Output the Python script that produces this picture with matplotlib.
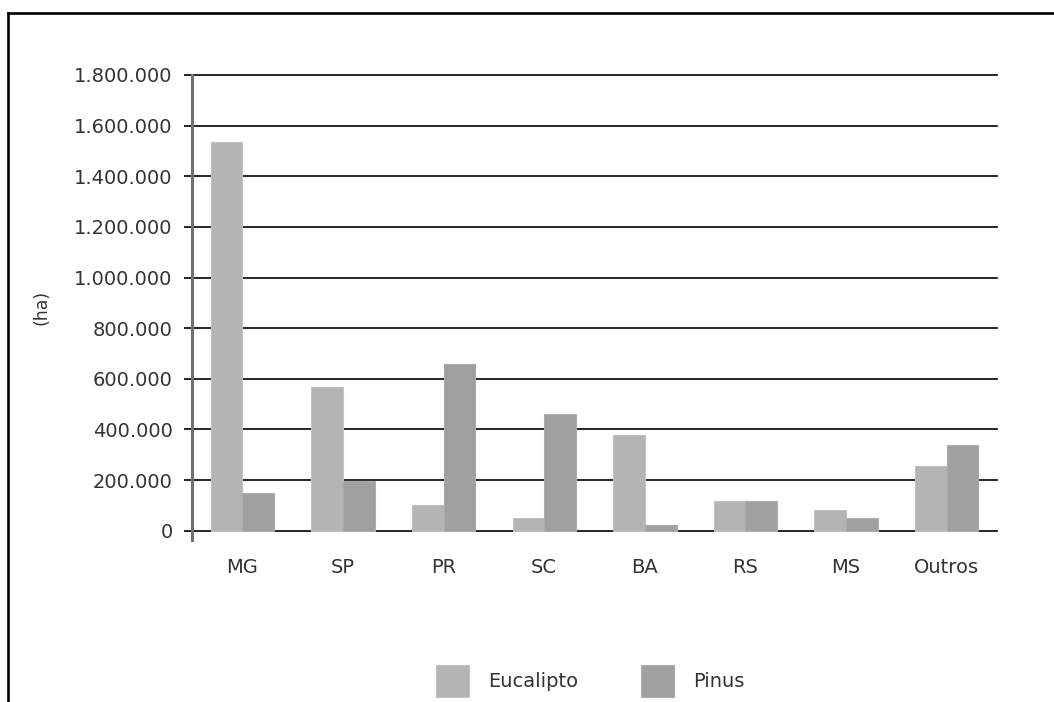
import numpy as np
import matplotlib
matplotlib.use("Agg")
import matplotlib.pyplot as plt
from matplotlib.lines import Line2D
from matplotlib.ticker import FuncFormatter

states = ["MG", "SP", "PR", "SC", "BA", "RS", "MS", "Outros"]
eucalipto = [1535000, 568000, 103000, 51000, 379000, 118000, 83000, 257000]
pinus = [150000, 197000, 659000, 462000, 21000, 118000, 51000, 340000]
yticks = [0, 200000, 400000, 600000, 800000, 1000000, 1200000, 1400000, 1600000, 1800000]

c_euc = "#b4b4b4"
c_pin = "#a0a0a0"
txt = "#333333"

fig = plt.figure(figsize=(10.54, 7.02), dpi=100)
fig.set_facecolor("white")
ax = fig.add_axes([0.1822, 0.2308, 0.7637, 0.6624])

x = np.arange(len(states))
w = 0.315
ax.bar(x - w / 2, eucalipto, width=w, color=c_euc, edgecolor="#c2c2c2",
       lw=0.8, label="Eucalipto", zorder=3)
ax.bar(x + w / 2, pinus, width=w, color=c_pin, edgecolor="#acacac",
       lw=0.8, label="Pinus", zorder=3)

ax.set_xlim(-0.5, len(states) - 0.5)
ax.set_ylim(-36700, 1800000)
ax.set_yticks(yticks)
ax.yaxis.set_major_formatter(
    FuncFormatter(lambda v, p: f"{int(v):,}".replace(",", "."))
)
ax.yaxis.grid(True, color="black", lw=1.2, zorder=1)
ax.set_axisbelow(True)
for gl in ax.get_ygridlines():
    gl.set_clip_on(False)

ax.set_xticks(x)
ax.set_xticklabels(states)
ax.tick_params(axis="x", length=0, pad=13, labelsize=14, labelcolor=txt)
ax.tick_params(axis="y", length=6, width=1.2, color="black", pad=8,
               labelsize=14, labelcolor=txt)

for s in ["top", "right", "bottom"]:
    ax.spines[s].set_visible(False)
ax.spines["left"].set_color("#707070")
ax.spines["left"].set_linewidth(2.2)
ax.spines["left"].set_zorder(4)

fig.text(42 / 1054, 1 - 307 / 702, "(ha)", rotation=90, ha="center",
         va="center", fontsize=12.5, color=txt)

ax.legend(loc="center", bbox_to_anchor=(0.5598, 0.0299),
          bbox_transform=fig.transFigure, ncol=2, frameon=False,
          fontsize=14, handlelength=1.7, handleheight=2.15,
          handletextpad=1.0, columnspacing=3.2, borderpad=0,
          labelcolor=txt)

# outer frame (left and top only)
fx = 7.5 / 1054
fy = 1 - 12.5 / 702
fig.add_artist(Line2D([fx, fx], [0, fy], transform=fig.transFigure,
                      color="black", lw=1.9))
fig.add_artist(Line2D([fx, 1], [fy, fy], transform=fig.transFigure,
                      color="black", lw=1.9))

fig.savefig("out.png", dpi=100)
